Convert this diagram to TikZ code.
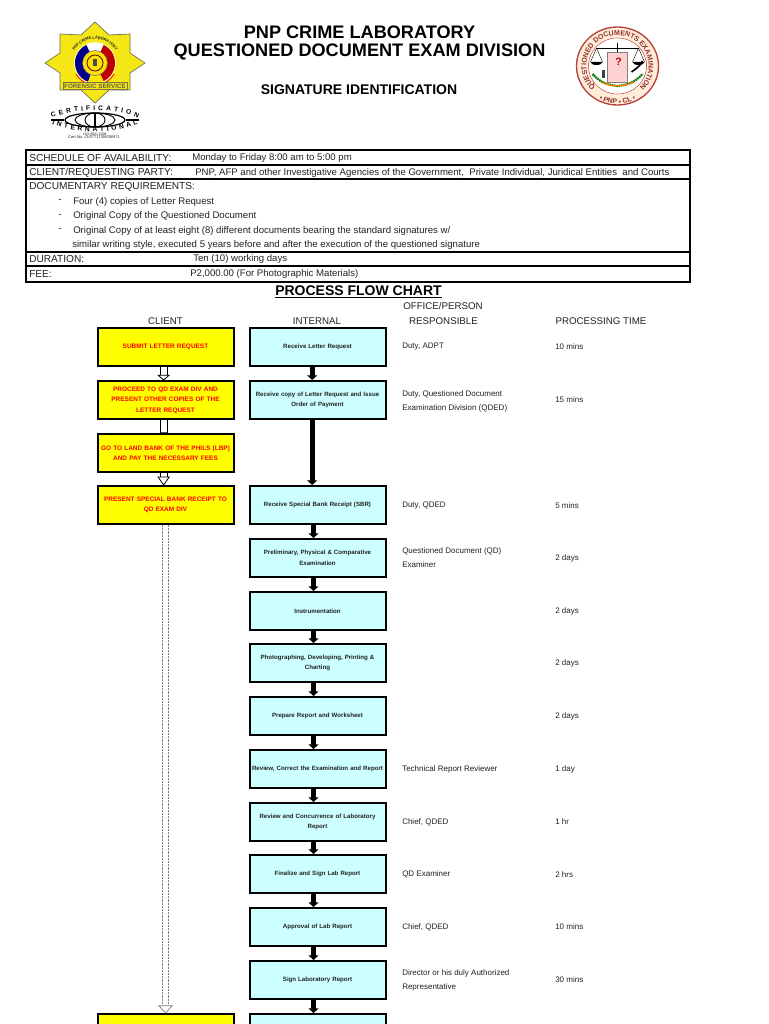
\documentclass[tikz,border=0pt]{standalone}
\usepackage{fontspec}
\setmainfont{Liberation Sans}
\usetikzlibrary{arrows.meta,decorations.text,calc}
\definecolor{boxcyan}{HTML}{CCFFFF}
\definecolor{boxyellow}{HTML}{FFFF00}
\definecolor{ink}{HTML}{222222}
\definecolor{starfill}{HTML}{F5E616}
\definecolor{sealred}{HTML}{B8403A}
\newcommand{\fs}[1]{\fontsize{#1}{#1}\selectfont}
\tikzset{
  x=0.75pt,y=-0.75pt,
  clientbox/.style={draw=black,line width=1.5pt,fill=boxyellow,minimum width=102pt,minimum height=28.5pt,inner sep=0pt,align=center,text=red,font=\fs{4.85}\bfseries,text width=101pt},
  internalbox/.style={draw=black,line width=1.5pt,fill=boxcyan,minimum width=102pt,minimum height=28.5pt,inner sep=0pt,align=center,text=ink,font=\fs{4.6}\bfseries,text width=101pt},
  tabletext/.style={anchor=west,inner sep=0pt,yshift=-.4pt,text=ink,font=\fs{7.2}},
  captext/.style={anchor=west,inner sep=0pt,yshift=-.4pt,text=ink,font=\fs{7.6}},
  sidetext/.style={anchor=west,inner sep=0pt,text=ink,font=\fs{6}},
  headtext/.style={anchor=center,inner sep=0pt,text=ink,font=\fs{7.3}},
  titletext/.style={anchor=center,inner sep=0pt,text=black,font=\bfseries},
  solidarrow/.style={draw=black,line width=3.6pt,-{Triangle[length=3.5pt,width=7.5pt]}},
  hollowline/.style={draw=black,line width=.6pt},
  hollowhead/.style={draw=black,fill=white,line width=.6pt,line join=miter},
  dashedline/.style={draw=gray,line width=.55pt,dash pattern=on 1.6pt off .8pt},
  dashedhead/.style={draw=gray,fill=white,line width=.55pt},
}
% #1 from node, #2 to node, #3 x offset (pt), #4 half gap (pt), #5 head half width (pt), #6 head length (pt), #7 line style, #8 head style
\newcommand{\hollowconn}[8]{%
  \draw[#7] ([xshift=#3pt-#4pt]#1.south) -- ([xshift=#3pt-#4pt,yshift=#6pt]#2.north);
  \draw[#7] ([xshift=#3pt+#4pt]#1.south) -- ([xshift=#3pt+#4pt,yshift=#6pt]#2.north);
  \draw[#8] ([xshift=#3pt-#5pt,yshift=#6pt]#2.north) -- ([xshift=#3pt+#5pt,yshift=#6pt]#2.north) -- ([xshift=#3pt]#2.north) -- cycle;
}
\begin{document}
\begin{tikzpicture}
\useasboundingbox (0,0) rectangle (768,1024);
\clip (0,0) rectangle (768,1024);
\fill[white] (0,0) rectangle (768,1024);

% --- left badge
\begin{scope}[shift={(95,63)},x=.75pt,y=.75pt]
  \fill[starfill,draw=black!65!yellow,line width=.5pt]
    (0,41)--(14,28)--(35,29)--(35,10)--(50,0)--(35,-10)--(35,-27)--(14,-27)--(0,-40)--(-14,-27)--(-35,-27)--(-35,-10)--(-50,0)--(-35,10)--(-35,29)--(-14,28)--cycle;
  \path[decorate,decoration={text along path,text align=center,text={|\fs{2.9}\bfseries\color{ink}|PNP CRIME LABORATORY}}]
    (-24,0) arc (180:0:24);
  \fill[white!70!yellow] (0,0) circle (21);
  \fill[blue!55!black] (0,0) ++(115:20) arc (115:250:20) -- (0,0) -- cycle;
  \fill[red!75!black] (0,0) ++(-65:20) arc (-65:65:20) -- (0,0) -- cycle;
  \fill[white] (0,0) ++(65:20) arc (65:115:20) -- (0,0) -- cycle;
  \fill[yellow!90!orange] (0,0) ++(250:20) arc (250:295:20) -- (0,0) -- cycle;
  \fill[yellow!85!orange,draw=black!60,line width=.4pt] (0,0) circle (12.5);
  \draw[black!60!orange,line width=.8pt] (0,0) circle (8);
  \fill[black!70] (-2,-3) rectangle (2,4);
  \draw[red!80!yellow,line width=.8pt] (-19,-11) arc (210:330:22);
  \node[draw=black!60!yellow,fill=starfill,line width=.4pt,inner xsep=.8pt,inner ysep=.8pt,text=black!70!yellow,font=\fs{4.7}\bfseries] (forensic) at (0,-23) {FORENSIC SERVICE};
\end{scope}

% --- certification logo
\begin{scope}[shift={(95,120)},x=.75pt,y=.75pt]
  \draw[black,line width=.9pt] (0,0) ellipse (30 and 7);
  \draw[black,line width=.7pt] (0,0) ellipse (20 and 7);
  \draw[black,line width=.7pt] (0,0) ellipse (10 and 7);
  \draw[black,line width=1pt] (-44,0)--(-31,0) (31,0)--(44,0) (0,-7)--(0,7);
  \path[decorate,decoration={text along path,text align=fit to path,text={|\fs{5}\bfseries|CERTIFICATION}}]
    (-43,2) .. controls (-20,12) and (20,12) .. (43,2);
  \path[decorate,decoration={text along path,text align=fit to path,text={|\fs{5}\bfseries|INTERNATIONAL}}]
    (-43,-4) .. controls (-20,-14) and (20,-14) .. (43,-4);
  \node[inner sep=0pt,text=ink,font=\fs{2.6}] (iso) at (0,-14.5) {ISO 9001:2008};
  \node[inner sep=0pt,text=ink,font=\fs{3}] (certno) at (-1,-17.5) {Cert No. CI/0771T/08/08/971};
\end{scope}

% --- right seal
\begin{scope}[shift={(617.5,66)},x=.75pt,y=.75pt]
  \fill[white!85!orange,draw=sealred,line width=1pt] (0,0) ellipse (41 and 39);
  \path[decorate,decoration={text along path,text align=center,text={|\fs{5.3}\bfseries\color{sealred!80!black}|QUESTIONED DOCUMENTS EXAMINATION}}]
    (236:31) arc (236:-56:31);
  \path[decorate,decoration={text along path,text align=center,text={|\fs{5.2}\bfseries\color{sealred!80!black}|•~PNP~•~CL~•}}]
    (212:38) arc (212:328:38);
  \draw[sealred,line width=.4pt] (0,0) ellipse (29 and 28);
  \fill[white] (0,0) ellipse (28.5 and 27.5);
  \fill[pink!70!white,draw=gray,line width=.3pt] (-10,14) rectangle (10,-16);
  \node[inner sep=0pt,text=red!80!black,font=\fs{8}\bfseries] (qmark) at (1,4) {?};
  \draw[black,line width=.7pt] (-21,18)--(21,18) (0,23)--(0,14);
  \draw[black,line width=.3pt] (-21,18)--(-27,4)(-21,18)--(-15,4)(21,18)--(27,4)(21,18)--(15,4);
  \fill[black] (-27,4) arc (180:360:6 and 3) -- cycle;
  \fill[black] (15,4) arc (180:360:6 and 3) -- cycle;
  \draw[green!45!black,line width=1.6pt,dash pattern=on 1.2pt off .5pt] (-25,-8) .. controls (-16,-18) and (-8,-19) .. (0,-20) .. controls (8,-19) and (16,-18) .. (25,-8);
  \draw[orange,line width=.9pt] (-17,-16) .. controls (-6,-21) and (6,-21) .. (17,-16);
  \fill[black!75] (-16,-4) rectangle (-13,-12);
  \draw[black,line width=1.2pt] (14,-6) .. controls (18,-3) and (23,0) .. (25,5);
\end{scope}

% --- titles
\node[titletext,font=\fs{13.6}\bfseries] (title1) at (359.5,32) {PNP CRIME LABORATORY};
\node[titletext,font=\fs{13.6}\bfseries] (title2) at (359.5,52) {QUESTIONED DOCUMENT EXAM DIVISION};
\node[titletext,font=\fs{10.5}\bfseries] (title3) at (359,89.5) {SIGNATURE IDENTIFICATION};

% --- information table
\draw[black,line width=1.5pt,fill=white] (26,150) rectangle (690,282);
\draw[black,line width=1.5pt] (26,165)--(690,165) (26,179)--(690,179) (26,252)--(690,252) (26,266)--(690,266);
\node[captext] (a1) at (29,157.5) {SCHEDULE OF AVAILABILITY:};
\node[tabletext] (a2) at (192,157.5) {Monday to Friday 8:00 am to 5:00 pm};
\node[captext] (b1) at (29,172) {CLIENT/REQUESTING PARTY:};
\node[tabletext] (b2) at (195,172) {PNP, AFP and other Investigative Agencies of the Government,\ \ Private Individual, Juridical Entities\ \ and Courts};
\node[captext] (c1t) at (29,186.5) {DOCUMENTARY REQUIREMENTS:};
\node[tabletext] (d0) at (58,201) {-};
\node[tabletext] (d1) at (73,201) {Four (4) copies of Letter Request};
\node[tabletext] (e0) at (58,215.5) {-};
\node[tabletext] (e1) at (73,215.5) {Original Copy of the Questioned Document};
\node[tabletext] (f0) at (58,230) {-};
\node[tabletext] (f1) at (73,230) {Original Copy of at least eight (8) different documents bearing the standard signatures w/};
\node[tabletext] (f2) at (72,244) {similar writing style, executed 5 years before and after the execution of the questioned signature};
\node[captext] (g1) at (29,258.5) {DURATION:};
\node[tabletext] (g2) at (193,258.5) {Ten (10) working days};
\node[captext] (h1) at (29,273) {FEE:};
\node[tabletext] (h2) at (190,273) {P2,000.00 (For Photographic Materials)};

% --- flow chart heading
\node[titletext,font=\fs{10.5}\bfseries] (flow) at (358.5,291) {PROCESS FLOW CHART};
\draw[black,line width=.8pt] ($(flow.south west)+(0,1.5)$) -- ($(flow.south east)+(0,1.5)$);
\node[headtext] (hc) at (165.5,321) {CLIENT};
\node[headtext] (hi) at (317,321) {INTERNAL};
\node[headtext] (ho) at (443,306) {OFFICE/PERSON};
\node[headtext] (hr) at (443.5,321) {RESPONSIBLE};
\node[headtext] (hp) at (601,321) {PROCESSING TIME};

% --- client boxes
\node[clientbox] (c1) at (165.5,347) {SUBMIT LETTER REQUEST};
\node[clientbox] (c2) at (165.5,400) {PROCEED TO QD EXAM DIV AND\\[3pt]PRESENT OTHER COPIES OF THE\\[3pt]LETTER REQUEST};
\node[clientbox] (c3) at (165.5,453) {GO TO LAND BANK OF THE PHILS (LBP)\\[3pt]AND PAY THE NECESSARY FEES};
\node[clientbox] (c4) at (165.5,505) {PRESENT SPECIAL BANK RECEIPT TO\\[3pt]QD EXAM DIV};
\node[clientbox] (c5) at (165.5,1033) {};

% --- internal boxes
\node[internalbox] (i1) at (317.5,347) {Receive Letter Request};
\node[internalbox] (i2) at (317.5,400) {Receive copy of Letter Request and Issue\\[3.2pt]Order of Payment};
\node[internalbox] (i3) at (317.5,505) {Receive Special Bank Receipt (SBR)};
\node[internalbox] (i4) at (317.5,558) {Preliminary, Physical \& Comparative\\[3.2pt]Examination};
\node[internalbox] (i5) at (317.5,611) {Instrumentation};
\node[internalbox] (i6) at (317.5,663) {Photographing, Developing, Printing \&\\[3.2pt]Charting};
\node[internalbox] (i7) at (317.5,716) {Prepare Report and Worksheet};
\node[internalbox] (i8) at (317.5,769) {Review, Correct the Examination and Report};
\node[internalbox] (i9) at (317.5,822) {Review and Concurrence of Laboratory\\[3.2pt]Report};
\node[internalbox] (i10) at (317.5,874) {Finalize and Sign Lab Report};
\node[internalbox] (i11) at (317.5,927) {Approval of Lab Report};
\node[internalbox] (i12) at (317.5,980) {Sign Laboratory Report};
\node[internalbox] (i13) at (317.5,1033) {};

% --- connectors
\hollowconn{c1}{c2}{-1.4}{2.6}{4}{3.5}{hollowline}{hollowhead}
\hollowconn{c2}{c3}{-1.4}{2.6}{2.6}{.1}{hollowline}{hollowline}
\hollowconn{c3}{c4}{-1.4}{2.6}{4.2}{6}{hollowline}{hollowhead}
\hollowconn{c4}{c5}{0}{2.3}{5}{5.5}{dashedline}{dashedhead}
\draw[solidarrow] ([xshift=-4pt]i1.south) -- ([xshift=-4pt]i2.north);
\draw[solidarrow] ([xshift=-4pt]i2.south) -- ([xshift=-4pt]i3.north);
\foreach \p/\q in {i3/i4,i4/i5,i5/i6,i6/i7,i7/i8,i8/i9,i9/i10,i10/i11,i11/i12,i12/i13}
  \draw[solidarrow] ([xshift=-3pt]\p.south) -- ([xshift=-3pt]\q.north);

% --- responsible column
\node[sidetext] (r1) at (402,347) {Duty, ADPT};
\node[sidetext] (r2a) at (402,394) {Duty, Questioned Document};
\node[sidetext] (r2b) at (402,408) {Examination Division (QDED)};
\node[sidetext] (r3) at (402,505.5) {Duty, QDED};
\node[sidetext] (r4a) at (402,551) {Questioned Document (QD)};
\node[sidetext] (r4b) at (402,565) {Examiner};
\node[sidetext] (r8) at (402,769.5) {Technical Report Reviewer};
\node[sidetext] (r9) at (402,822) {Chief, QDED};
\node[sidetext] (r10) at (402,874.5) {QD Examiner};
\node[sidetext] (r11) at (402,927) {Chief, QDED};
\node[sidetext] (r12a) at (402,973) {Director or his duly Authorized};
\node[sidetext] (r12b) at (402,987) {Representative};

% --- processing time column
\node[sidetext] (p1) at (555,347) {10 mins};
\node[sidetext] (p2) at (555,400) {15 mins};
\node[sidetext] (p3) at (555,505.5) {5 mins};
\node[sidetext] (p4) at (555,558) {2 days};
\node[sidetext] (p5) at (555,611) {2 days};
\node[sidetext] (p6) at (555,663.5) {2 days};
\node[sidetext] (p7) at (555,716) {2 days};
\node[sidetext] (p8) at (555,769.5) {1 day};
\node[sidetext] (p9) at (555,822) {1 hr};
\node[sidetext] (p10) at (555,874.5) {2 hrs};
\node[sidetext] (p11) at (555,927) {10 mins};
\node[sidetext] (p12) at (555,980) {30 mins};
\end{tikzpicture}
\end{document}
